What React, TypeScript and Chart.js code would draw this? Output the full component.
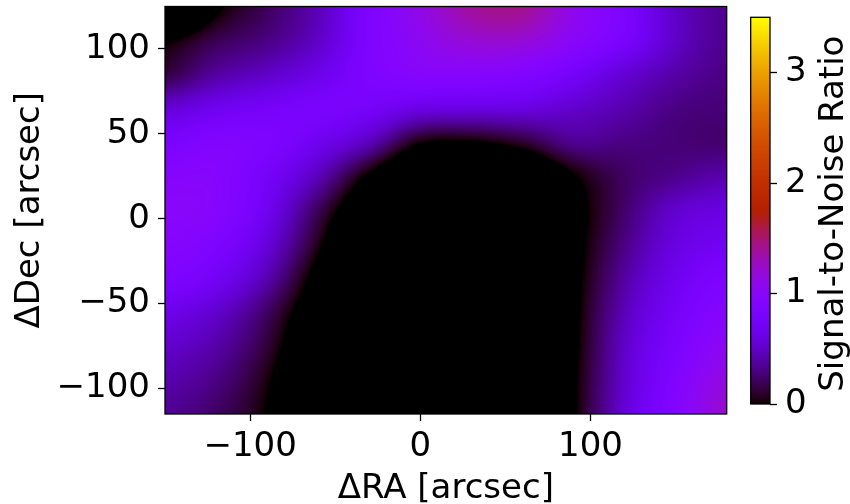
import React, { useEffect, useRef } from 'react';
import { Chart, registerables } from 'chart.js';

Chart.register(...registerables);

// Grid of Signal-to-Noise values
const raValues = [-150, -120, -90, -60, -30, 0, 30, 60, 90, 120, 150, 180];
const decValues = [125, 105, 85, 65, 45, 25, 5, -15, -35, -55, -75, -95, -115];
const snrDec125 = [-0.6, -0.05, 0.2, 0.45, 0.85, 1.12, 1.38, 1.42, 1.1, 0.85, 0.5, 0.33];
const snrDec105 = [-0.03, 0.18, 0.3, 0.5, 0.85, 1.05, 1.2, 1.2, 1.0, 0.8, 0.5, 0.33];
const snrDec85 = [0.15, 0.38, 0.5, 0.65, 0.85, 0.95, 0.95, 0.9, 0.75, 0.55, 0.4, 0.3];
const snrDec65 = [0.55, 0.68, 0.75, 0.8, 0.75, 0.62, 0.6, 0.6, 0.52, 0.42, 0.3, 0.27];
const snrDec45 = [0.8, 0.9, 0.85, 0.68, 0.45, 0.02, -0.02, 0.1, 0.33, 0.3, 0.27, 0.25];
const snrDec25 = [0.95, 0.95, 0.75, 0.45, -0.05, -0.5, -0.55, -0.42, -0.02, 0.22, 0.33, 0.42];
const snrDec5 = [1.0, 0.95, 0.68, 0.2, -0.35, -0.8, -0.8, -0.7, -0.12, 0.24, 0.52, 0.6];
const snrDecM15 = [0.95, 0.85, 0.57, 0.05, -0.6, -0.9, -0.9, -0.8, -0.12, 0.3, 0.6, 0.7];
const snrDecM35 = [0.85, 0.72, 0.42, -0.12, -0.7, -0.9, -0.9, -0.8, -0.1, 0.38, 0.68, 0.85];
const snrDecM55 = [0.65, 0.52, 0.22, -0.25, -0.75, -0.9, -0.9, -0.8, -0.08, 0.45, 0.75, 0.95];
const snrDecM75 = [0.52, 0.4, 0.12, -0.35, -0.8, -0.9, -0.9, -0.8, -0.07, 0.5, 0.82, 1.05];
const snrDecM95 = [0.42, 0.3, 0.03, -0.45, -0.85, -0.9, -0.9, -0.8, -0.05, 0.52, 0.88, 1.15];
const snrDecM115 = [0.35, 0.22, -0.02, -0.5, -0.9, -0.9, -0.9, -0.8, -0.04, 0.55, 0.92, 1.25];

const snrGrid = [
  snrDec125, snrDec105, snrDec85, snrDec65, snrDec45, snrDec25, snrDec5,
  snrDecM15, snrDecM35, snrDecM55, snrDecM75, snrDecM95, snrDecM115,
];

const xTicks = [-100, 0, 100];
const yTicks = [-100, -50, 0, 50, 100];
const cbTicks = [0, 1, 2, 3];
const raRange = [-150, 180];
const decRange = [-115, 125];
const snrRange = [0, 3.5];

const FONT = '"DejaVu Sans", sans-serif';

function gnuplot(t: number): [number, number, number] {
  const c = Math.max(0, Math.min(1, t));
  const r = Math.sqrt(c);
  const g = c * c * c;
  const b = Math.max(0, Math.min(1, Math.sin(2 * Math.PI * c)));
  return [Math.round(r * 255), Math.round(g * 255), Math.round(b * 255)];
}

function cr(p0: number, p1: number, p2: number, p3: number, t: number) {
  const t2 = t * t, t3 = t2 * t;
  return 0.5 * (2 * p1 + (-p0 + p2) * t + (2 * p0 - 5 * p1 + 4 * p2 - p3) * t2 + (-p0 + 3 * p1 - 3 * p2 + p3) * t3);
}

function sampleGrid(x: number, y: number) {
  const nC = raValues.length, nR = decValues.length;
  const dx = raValues[1] - raValues[0];
  const dy = decValues[1] - decValues[0];
  let fc = (x - raValues[0]) / dx;
  let fr = (y - decValues[0]) / dy;
  fc = Math.max(0, Math.min(nC - 1, fc));
  fr = Math.max(0, Math.min(nR - 1, fr));
  const c1 = Math.min(nC - 2, Math.floor(fc));
  const r1 = Math.min(nR - 2, Math.floor(fr));
  const tc = fc - c1, tr = fr - r1;
  const cl = (i: number, n: number) => Math.max(0, Math.min(n - 1, i));
  const rowVals: number[] = [];
  for (let k = -1; k <= 2; k++) {
    const row = snrGrid[cl(r1 + k, nR)];
    rowVals.push(cr(row[cl(c1 - 1, nC)], row[c1], row[c1 + 1], row[cl(c1 + 2, nC)], tc));
  }
  return cr(rowVals[0], rowVals[1], rowVals[2], rowVals[3], tr);
}

const tickFmt = (v: any) => String(v).replace('-', '\u2212');

const heatmapPlugin = {
  id: 'heatmap',
  beforeDraw(chart: any) {
    const { ctx, chartArea, scales } = chart;
    const { left, top, right, bottom } = chartArea;
    const w = Math.round(right - left), h = Math.round(bottom - top);
    const off = document.createElement('canvas');
    off.width = w; off.height = h;
    const octx = off.getContext('2d')!;
    const img = octx.createImageData(w, h);
    for (let j = 0; j < h; j++) {
      const yv = scales.y.getValueForPixel(top + (j + 0.5) * (bottom - top) / h);
      for (let i = 0; i < w; i++) {
        const xv = scales.x.getValueForPixel(left + (i + 0.5) * (right - left) / w);
        const v = sampleGrid(xv, yv);
        const [r, g, b] = gnuplot((v - snrRange[0]) / (snrRange[1] - snrRange[0]));
        const idx = (j * w + i) * 4;
        img.data[idx] = r; img.data[idx + 1] = g; img.data[idx + 2] = b; img.data[idx + 3] = 255;
      }
    }
    octx.putImageData(img, 0, 0);
    ctx.save();
    ctx.drawImage(off, left, top, right - left, bottom - top);
    ctx.restore();
  },
  afterDraw(chart: any) {
    const { ctx, chartArea } = chart;
    ctx.save();
    ctx.strokeStyle = '#000';
    ctx.lineWidth = 1.3;
    ctx.strokeRect(chartArea.left, chartArea.top, chartArea.right - chartArea.left, chartArea.bottom - chartArea.top);
    ctx.restore();
  },
};

const colorbarPlugin = {
  id: 'colorbar',
  beforeDraw(chart: any) {
    const { ctx, chartArea, scales } = chart;
    const { left, top, right, bottom } = chartArea;
    ctx.save();
    for (let py = Math.floor(top); py < Math.ceil(bottom); py++) {
      const v = scales.y.getValueForPixel(py + 0.5);
      const [r, g, b] = gnuplot((v - snrRange[0]) / (snrRange[1] - snrRange[0]));
      ctx.fillStyle = `rgb(${r},${g},${b})`;
      const y0 = Math.max(top, py), y1 = Math.min(bottom, py + 1);
      ctx.fillRect(left, y0, right - left, y1 - y0);
    }
    ctx.restore();
  },
  afterDraw(chart: any) {
    const { ctx, chartArea } = chart;
    ctx.save();
    ctx.strokeStyle = '#000';
    ctx.lineWidth = 1.3;
    ctx.strokeRect(chartArea.left, chartArea.top, chartArea.right - chartArea.left, chartArea.bottom - chartArea.top);
    ctx.translate(113, (chartArea.top + chartArea.bottom) / 2 + 3);
    ctx.rotate(-Math.PI / 2);
    ctx.fillStyle = '#000';
    ctx.font = `34px ${FONT}`;
    ctx.textAlign = 'center';
    ctx.textBaseline = 'alphabetic';
    ctx.fillText('Signal-to-Noise Ratio', 0, 0);
    ctx.restore();
  },
};

export default function App() {
  const mainRef = useRef<HTMLCanvasElement>(null);
  const cbRef = useRef<HTMLCanvasElement>(null);

  useEffect(() => {
    const tickFont = { family: FONT, size: 34 };
    const gridOpts = {
      display: true, drawOnChartArea: false, drawTicks: true,
      tickLength: 7, tickWidth: 1.3, tickColor: '#000',
    };
    const main = new Chart(mainRef.current!, {
      type: 'scatter',
      data: { datasets: [] },
      options: {
        animation: false,
        responsive: false,
        maintainAspectRatio: false,
        layout: { padding: { left: 0, top: 6.5, right: 123.3, bottom: 0 } },
        plugins: { legend: { display: false }, tooltip: { enabled: false } },
        scales: {
          x: {
            type: 'linear', min: raRange[0], max: raRange[1],
            afterBuildTicks: (s: any) => { s.ticks = xTicks.map((v) => ({ value: v })); },
            afterFit: (s: any) => { s.height = 90; s.paddingLeft = 0; s.paddingRight = 0; },
            grid: gridOpts as any,
            border: { display: false },
            ticks: { font: tickFont, color: '#000', padding: 6, maxRotation: 0, callback: tickFmt },
            title: { display: true, text: '\u0394RA [arcsec]', font: tickFont, color: '#000', padding: { top: 0, bottom: -6 } },
          },
          y: {
            type: 'linear', min: decRange[0], max: decRange[1],
            afterBuildTicks: (s: any) => { s.ticks = yTicks.map((v) => ({ value: v })); },
            afterFit: (s: any) => { s.width = 165; s.paddingTop = 0; s.paddingBottom = 0; },
            grid: gridOpts as any,
            border: { display: false },
            ticks: { font: tickFont, color: '#000', padding: 8, callback: tickFmt },
            title: { display: true, text: '\u0394Dec [arcsec]', font: tickFont, color: '#000', padding: { top: 10, bottom: 0 } },
          },
        },
      },
      plugins: [heatmapPlugin],
    } as any);

    const cb = new Chart(cbRef.current!, {
      type: 'scatter',
      data: { datasets: [] },
      options: {
        animation: false,
        responsive: false,
        maintainAspectRatio: false,
        layout: { padding: { left: 20.7, top: 17.3, right: 0, bottom: 100 } },
        plugins: { legend: { display: false }, tooltip: { enabled: false } },
        scales: {
          x: { type: 'linear', display: false, min: 0, max: 1 },
          y: {
            type: 'linear', position: 'right', min: snrRange[0], max: snrRange[1],
            afterBuildTicks: (s: any) => { s.ticks = cbTicks.map((v) => ({ value: v })); },
            afterFit: (s: any) => { s.width = 80; s.paddingTop = 0; s.paddingBottom = 0; },
            grid: gridOpts as any,
            border: { display: false },
            ticks: { font: tickFont, color: '#000', padding: 8, callback: tickFmt },
          },
        },
      },
      plugins: [colorbarPlugin],
    } as any);

    return () => { main.destroy(); cb.destroy(); };
  }, []);

  return (
    <div style={{ position: 'fixed', left: 0, top: 0, width: 850, height: 504, background: '#fff' }}>
      <canvas ref={mainRef} width={850} height={504} style={{ position: 'absolute', left: 0, top: 0, width: 850, height: 504 }} />
      <canvas ref={cbRef} width={120} height={504} style={{ position: 'absolute', left: 730, top: 0, width: 120, height: 504 }} />
    </div>
  );
}
